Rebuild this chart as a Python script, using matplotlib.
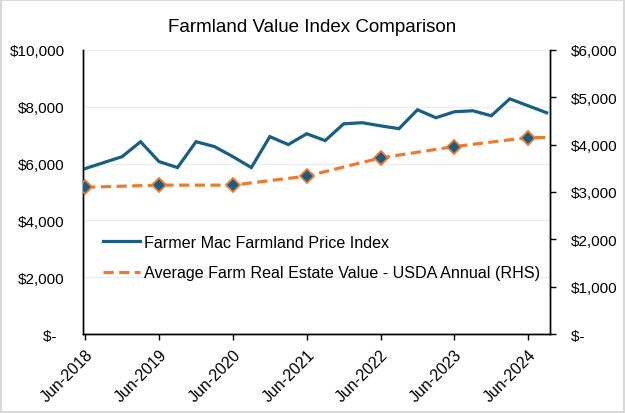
import matplotlib
matplotlib.use("Agg")
import matplotlib.pyplot as plt
from matplotlib.ticker import FuncFormatter, MultipleLocator
from matplotlib.patches import Rectangle
from matplotlib.transforms import ScaledTranslation

plt.rcParams['font.family'] = ['Liberation Sans', 'DejaVu Sans']

# Quarterly Farmer Mac index, Jun-2018 .. Sep-2024
quarters = ['Jun-2018', 'Sep-2018', 'Dec-2018', 'Mar-2019', 'Jun-2019', 'Sep-2019', 'Dec-2019',
            'Mar-2020', 'Jun-2020', 'Sep-2020', 'Dec-2020', 'Mar-2021', 'Jun-2021', 'Sep-2021',
            'Dec-2021', 'Mar-2022', 'Jun-2022', 'Sep-2022', 'Dec-2022', 'Mar-2023', 'Jun-2023',
            'Sep-2023', 'Dec-2023', 'Mar-2024', 'Jun-2024', 'Sep-2024']
farmer_mac = [5825, 6035, 6245, 6770, 6070, 5860, 6770, 6600, 6245, 5860, 6950, 6670, 7050,
              6810, 7400, 7440, 7330, 7230, 7895, 7615, 7825, 7860, 7685, 8280, 8035, 7790]

# USDA annual (RHS), at Jun of each year, last value carried to Sep-2024
usda_quarters = ['Jun-2018', 'Jun-2019', 'Jun-2020', 'Jun-2021', 'Jun-2022', 'Jun-2023', 'Jun-2024', 'Sep-2024']
usda_values = [3100, 3145, 3145, 3335, 3720, 3960, 4150, 4150]
usda_marked = [True, True, True, True, True, True, True, False]

tick_labels = ['Jun-2018', 'Jun-2019', 'Jun-2020', 'Jun-2021', 'Jun-2022', 'Jun-2023', 'Jun-2024']

title = 'Farmland Value Index Comparison'
label_fm = 'Farmer Mac Farmland Price Index'
label_usda = 'Average Farm Real Estate Value - USDA Annual (RHS)'

BLUE = '#195E83'
ORANGE = '#EE7A30'

fig = plt.figure(figsize=(6.25, 4.14), dpi=100)
ax = fig.add_axes([83/625, 1-335/414, (550-83)/625, (335-51)/414])
ax2 = ax.twinx()

xi = {q: i for i, q in enumerate(quarters)}
x_fm = [xi[q] for q in quarters]
x_us = [xi[q] for q in usda_quarters]

l1, = ax.plot(x_fm, farmer_mac, color=BLUE, lw=2.3, solid_joinstyle='miter', zorder=3)
l2, = ax2.plot(x_us, usda_values, color=ORANGE, lw=2.3, dashes=(3.2, 1.7), zorder=3)
mx = [x for x, m in zip(x_us, usda_marked) if m]
my = [v for v, m in zip(usda_values, usda_marked) if m]
ax2.plot(mx, my, ls='none', marker='D', ms=7, mfc=BLUE, mec=ORANGE, mew=1.3, zorder=4)

ax.set_xlim(-0.12, 25.18)
ax.set_ylim(0, 10000)
ax2.set_ylim(0, 6000)

ax.set_xticks([xi[t] for t in tick_labels])
ax.set_xticklabels(tick_labels, rotation=45, ha='right', rotation_mode='anchor')
off = ScaledTranslation(3/100, 0, fig.dpi_scale_trans)
for lab in ax.get_xticklabels():
    lab.set_transform(lab.get_transform() + off)

def money(v, pos):
    if abs(v) < 1e-9:
        return '$-  '
    return '${:,.0f}'.format(v)

ax.yaxis.set_major_locator(MultipleLocator(2000))
ax2.yaxis.set_major_locator(MultipleLocator(1000))
ax.yaxis.set_major_formatter(FuncFormatter(money))
ax2.yaxis.set_major_formatter(FuncFormatter(money))

ax.grid(axis='y', color='#EDEDED', lw=1.0, zorder=0)
ax.set_axisbelow(True)

for a in (ax, ax2):
    a.spines['top'].set_visible(False)
    for s in ('left', 'right', 'bottom'):
        a.spines[s].set_color('black')
        a.spines[s].set_linewidth(1.0)

ax.tick_params(axis='y', length=0, pad=13, labelsize=11, colors='black')
ax2.tick_params(axis='y', length=4, width=1, pad=11, labelsize=11, colors='black', direction='out')
ax.tick_params(axis='x', length=4, width=1, pad=5, labelsize=11.5, colors='black', direction='out')

fig.text(0.5, 1-27/414, title, ha='center', va='center', fontsize=13.5, color='black')

leg = ax.legend([l1, l2], [label_fm, label_usda], loc='center left',
                bbox_to_anchor=(103/625, 1-258.5/414), bbox_transform=fig.transFigure,
                frameon=False, fontsize=11.6, handlelength=2.3, handletextpad=0.25,
                labelspacing=0.95, borderpad=0, borderaxespad=0)

fig.patches.append(Rectangle((0.002, 0.003), 0.996, 0.994, transform=fig.transFigure,
                             fill=False, edgecolor='#D9D9D9', lw=1.5))

fig.savefig('out.png', dpi=100)
